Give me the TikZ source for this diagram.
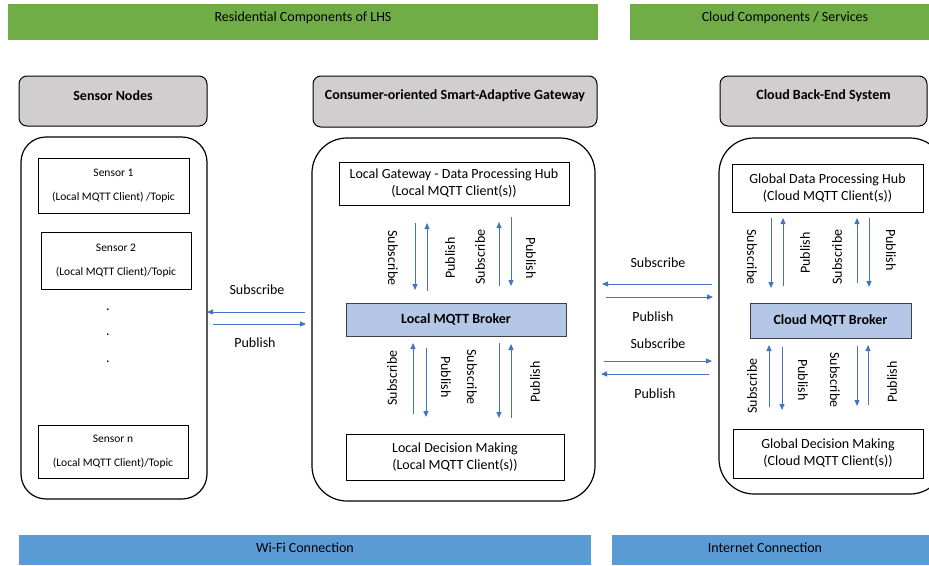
\documentclass[tikz,border=0pt]{standalone}
\usepackage{fontspec}
\setmainfont{Carlito}
\usetikzlibrary{arrows.meta}
\definecolor{hdrgreen}{HTML}{70AD47}
\definecolor{barblue}{HTML}{5B9BD5}
\definecolor{hdrgray}{HTML}{D0CECE}
\definecolor{brkblue}{HTML}{B4C7E7}
\definecolor{arrblue}{HTML}{4472C4}
\newcommand\mysz{\fontsize{14}{17}\selectfont}
\newcommand\smsz{\fontsize{11.5}{13}\selectfont}
\tikzset{
  band/.style={fill=#1, draw=none, inner sep=0pt},
  bandtxt/.style={inner sep=0pt, font=\mysz},
  hdrbox/.style={draw=black, line width=1pt, fill=hdrgray, rounded corners=8pt, inner sep=0pt},
  hdrtxt/.style={inner sep=0pt, font=\mysz\bfseries},
  group/.style={draw=black, line width=1.2pt, rounded corners=#1, inner sep=0pt},
  inbox/.style={draw=black, line width=1pt, fill=white, inner sep=0pt, align=center, font=\mysz},
  sensbox/.style={draw=black, line width=1pt, fill=white, inner sep=0pt, align=center, font=\smsz},
  brk/.style={draw=black!75, line width=1pt, fill=brkblue, inner sep=0pt, font=\mysz\bfseries},
  arr/.style={draw=arrblue, line width=1pt, -{Triangle[length=6pt,width=5pt]}},
  lbl/.style={inner sep=0pt, font=\mysz},
}
\newcommand\conn[3]{\coordinate (#1s) at #2; \coordinate (#1e) at #3; \draw[arr] (#1s) -- (#1e);}
\begin{document}
\begin{tikzpicture}[x=1pt,y=-1pt]
\useasboundingbox (0,0) rectangle (929,565);
\begin{scope}
\clip (0,0) rectangle (929,565);
% top bands
\node[band=hdrgreen, minimum width=590pt, minimum height=36pt] (res) at (303,22) {};
\node[bandtxt] (rest) at (303,18) {Residential Components of LHS};
\node[band=hdrgreen, minimum width=310pt, minimum height=36pt] (cld) at (785,22) {};
\node[bandtxt] (cldt) at (785,18) {Cloud Components / Services};
% header boxes
\node[hdrbox, minimum width=188pt, minimum height=50pt] (hsens) at (113,101) {};
\node[hdrtxt] (hsenst) at (113,96) {Sensor Nodes};
\node[hdrbox, minimum width=284pt, minimum height=51pt] (hgw) at (455,101.5) {};
\node[hdrtxt] (hgwt) at (455,96) {Consumer-oriented Smart-Adaptive Gateway};
\node[hdrbox, minimum width=207pt, minimum height=50pt] (hcl) at (823.5,101) {};
\node[hdrtxt] (hclt) at (823.5,96) {Cloud Back-End System};
% group boxes
\node[group=25pt, minimum width=186pt, minimum height=362pt] (gsens) at (114,318) {};
\node[group=35pt, minimum width=283pt, minimum height=363pt] (ggw) at (453.5,319.5) {};
\node[group=35pt, minimum width=226pt, minimum height=356pt] (gcl) at (832,316) {};
% sensors
\node[sensbox, minimum width=151pt, minimum height=55pt] (s1) at (113.5,185.5) {Sensor 1\\[11pt](Local MQTT Client) /Topic};
\node[sensbox, minimum width=150pt, minimum height=57pt] (s2) at (116,260.5) {Sensor 2\\[11pt](Local MQTT Client)/Topic};
\node[sensbox, minimum width=150pt, minimum height=53pt] (sn) at (113,451.5) {Sensor n\\[11pt](Local MQTT Client)/Topic};
\node[lbl] (d1) at (108,310) {.};
\node[lbl] (d2) at (108,335) {.};
\node[lbl] (d3) at (108,362) {.};
% gateway
\node[inbox, minimum width=230pt, minimum height=43pt] (hub) at (454,183.5) {Local Gateway - Data Processing Hub\\(Local MQTT Client(s))};
\node[brk, minimum width=220pt, minimum height=33pt] (lbrk) at (456,319.5) {Local MQTT Broker};
\node[inbox, minimum width=218pt, minimum height=46pt] (ldec) at (455,457) {Local Decision Making\\(Local MQTT Client(s))};
% cloud
\node[inbox, minimum width=191pt, minimum height=48pt] (ghub) at (827.5,188) {Global Data Processing Hub\\(Cloud MQTT Client(s))};
\node[brk, minimum width=161pt, minimum height=35pt] (cbrk) at (830.5,320.5) {Cloud MQTT Broker};
\node[inbox, minimum width=190pt, minimum height=49pt] (gdec) at (828,453.5) {Global Decision Making\\(Cloud MQTT Client(s))};
% bottom bands
\node[band=barblue, minimum width=572pt, minimum height=30pt] (wifi) at (305,550) {};
\node[bandtxt] (wifit) at (305,548) {Wi-Fi Connection};
\node[band=barblue, minimum width=317pt, minimum height=30pt] (inet) at (770,550) {};
\node[bandtxt] (inett) at (765,548) {Internet Connection};
% sensors <-> gateway
\conn{a1}{(305,312)}{(207,312)}
\conn{a2}{(213,324)}{(306,324)}
\node[lbl] (l1) at (257,290) {Subscribe};
\node[lbl] (l2) at (255,343) {Publish};
% gateway <-> cloud
\conn{a3}{(712,284)}{(602,284)}
\conn{a4}{(606,297)}{(713,297)}
\node[lbl] (l3) at (658,263) {Subscribe};
\node[lbl] (l4) at (653,317) {Publish};
\conn{a5}{(604,361)}{(712,361)}
\conn{a6}{(709,374)}{(601,374)}
\node[lbl] (l5) at (658,344) {Subscribe};
\node[lbl] (l6) at (655,394) {Publish};
% gateway top
\conn{b1}{(415,223)}{(415,290)}
\conn{b2}{(427,291)}{(427,223)}
\conn{b3}{(499,286)}{(499,222)}
\conn{b4}{(511,217)}{(511,286)}
\node[lbl, rotate=-90] (m1) at (393,258) {Subscribe};
\node[lbl, rotate=90] (m2) at (450,258) {Publish};
\node[lbl, rotate=90] (m3) at (480,257) {Subscribe};
\node[lbl, rotate=-90] (m4) at (531,258) {Publish};
% gateway bottom
\conn{c1}{(413,414)}{(413,343)}
\conn{c2}{(426,348)}{(426,417)}
\conn{c3}{(499,343)}{(499,418)}
\conn{c4}{(511,418)}{(511,344)}
\node[lbl, rotate=90] (n1) at (392,378) {Subscribe};
\node[lbl, rotate=-90] (n2) at (446,377) {Publish};
\node[lbl, rotate=-90] (n3) at (472,377) {Subscribe};
\node[lbl, rotate=90] (n4) at (535,382) {Publish};
% cloud top
\conn{e1}{(771,218)}{(771,288)}
\conn{e2}{(783,286)}{(783,218)}
\conn{e3}{(857,283)}{(857,218)}
\conn{e4}{(869,218)}{(869,287)}
\node[lbl, rotate=-90] (p1) at (752,257) {Subscribe};
\node[lbl, rotate=90] (p2) at (805,253) {Publish};
\node[lbl, rotate=90] (p3) at (837,257) {Subscribe};
\node[lbl, rotate=-90] (p4) at (891,250) {Publish};
% cloud bottom
\conn{f1}{(769,407)}{(769,345)}
\conn{f2}{(782,347)}{(782,410)}
\conn{f3}{(857,346)}{(857,406)}
\conn{f4}{(868,405)}{(868,345)}
\node[lbl, rotate=90] (q1) at (752,386) {Subscribe};
\node[lbl, rotate=-90] (q2) at (803,380) {Publish};
\node[lbl, rotate=-90] (q3) at (835,380) {Subscribe};
\node[lbl, rotate=90] (q4) at (892,382) {Publish};
\end{scope}
\end{tikzpicture}
\end{document}
